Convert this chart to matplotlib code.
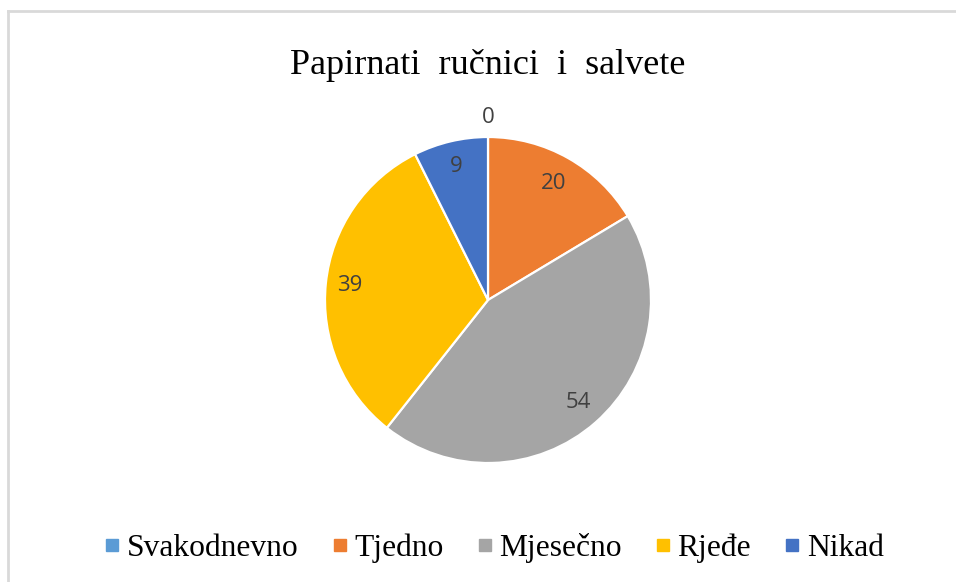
import matplotlib
matplotlib.use("Agg")
import matplotlib.pyplot as plt
from matplotlib.lines import Line2D
import numpy as np

title = "Papirnati  ručnici  i  salvete"
categories = ["Svakodnevno", "Tjedno", "Mjesečno", "Rjeđe", "Nikad"]
values = [0, 20, 54, 39, 9]
colors = ["#5B9BD5", "#ED7D31", "#A5A5A5", "#FFC000", "#4472C4"]
label_dist = [1.12, 0.82, 0.84, 0.85, 0.84]

W, H = 956, 582
fig = plt.figure(figsize=(W / 100, H / 100), dpi=100)
fig.patch.set_facecolor("white")

# chart border (top and left visible)
fig.add_artist(Line2D([8 / W, 1.0], [1 - 11 / H, 1 - 11 / H], transform=fig.transFigure,
                      color="#d9d9d9", lw=2.0))
fig.add_artist(Line2D([8 / W, 8 / W], [0.0, 1 - 11 / H], transform=fig.transFigure,
                      color="#d9d9d9", lw=2.0))

cx, cy, R = 488, 300, 163
ax = fig.add_axes([(cx - R) / W, (H - cy - R) / H, 2 * R / W, 2 * R / H])
wedges, _ = ax.pie(values, colors=colors, startangle=90, counterclock=False,
                   wedgeprops=dict(edgecolor="white", linewidth=1.6))
ax.set_xlim(-1, 1)
ax.set_ylim(-1, 1)
ax.set_aspect("equal")
ax.axis("off")

for w, v, d in zip(wedges, values, label_dist):
    ang = np.deg2rad((w.theta1 + w.theta2) / 2)
    ax.text(d * np.cos(ang), d * np.sin(ang), str(v), ha="center", va="center",
            fontsize=16, color="#404040", family=["Open Sans", "DejaVu Sans"])

fig.text(cx / W, 1 - 74 / H, title, ha="center", va="baseline",
         fontsize=26, family=["Liberation Serif", "DejaVu Serif"], color="black")

handles = [Line2D([], [], marker="s", linestyle="none", markersize=8.6,
                  markerfacecolor=c, markeredgecolor=c) for c in colors]
fig.legend(handles, categories, loc="center", bbox_to_anchor=(495 / W, 1 - 548 / H),
           ncol=5, frameon=False, handlelength=0.38, handletextpad=0.28,
           columnspacing=1.1, prop={"family": ["Liberation Serif", "DejaVu Serif"], "size": 22.7})

fig.savefig("out.png", dpi=100, facecolor="white")
